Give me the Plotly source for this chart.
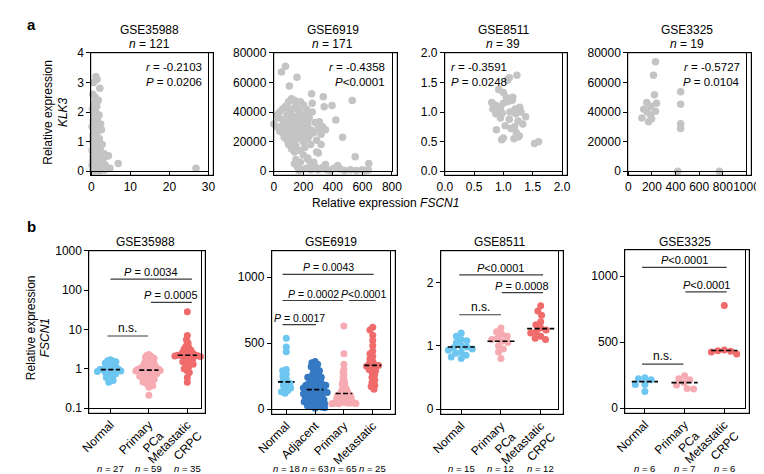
import numpy as np
import plotly.graph_objects as go

W, H = 764, 474
FONT = "Liberation Sans, Arial, Helvetica, sans-serif"

# ================= DATA: panel a (scatter, KLK3 vs FSCN1) =================
titles_a = ["GSE35988", "GSE6919", "GSE8511", "GSE3325"]
n_a = ["121", "171", "39", "19"]
r_a = ["-0.2103", "-0.4358", "-0.3591", "-0.5727"]
p_a = [" = 0.0206", "&lt;0.0001", " = 0.0248", " = 0.0104"]

x_35988 = [
    1.2, 0.6, 1.5, 2.2, 0.4, 1.0, 1.8, 0.8, 1.4, 0.3,
    1.1, 2.0, 0.7, 1.6, 0.5, 1.3, 2.4, 0.9, 1.9, 0.2,
    1.2, 2.6, 0.6, 1.5, 0.4, 1.0, 2.1, 0.8, 1.7, 0.3,
    1.4, 2.8, 0.5, 1.1, 2.3, 0.7, 1.8, 0.2, 1.3, 3.2,
    0.9, 2.0, 0.4, 1.6, 3.8, 0.6, 1.2, 2.5, 0.3, 1.0,
    4.4, 2.0, 0.8, 3.0, 0.5, 1.5, 3.6, 0.2, 1.1, 2.6,
    4.0, 0.7, 1.9, 6.9, 26.8, 0.4, 1.3, 3.3, 0.9, 2.2,
    4.8, 3.5, 2.8,
]
y_35988 = [
    3.2, 3.0, 3.1, 2.8, 2.6, 2.5, 2.4, 2.3, 2.2, 2.1,
    2.0, 1.9, 1.9, 1.8, 1.7, 1.7, 1.6, 1.6, 1.5, 1.5,
    1.4, 1.4, 1.3, 1.3, 1.2, 1.2, 1.1, 1.1, 1.0, 1.0,
    0.9, 0.9, 0.85, 0.8, 0.8, 0.75, 0.7, 0.7, 0.65, 0.6,
    0.6, 0.55, 0.5, 0.5, 0.5, 0.45, 0.4, 0.4, 0.35, 0.35,
    0.52, 0.3, 0.3, 0.3, 0.25, 0.25, 0.2, 0.2, 0.15, 0.15,
    0.1, 0.1, 0.05, 0.26, 0.1, 0.05, 0.08, 0.05, 0.02, 0.02,
    0.1, 0.05, 0.45,
]

x_6919 = [
    79, 52, 157, 105, 256, 335, 531, 341, 394, 420,
    466, 302, 551, 643, 433, 600, 620, 520, 480, 450,
    410, 360, 330, 300, 280, 250, 220, 190, 160, 140,
    170, 350, 270, 230, 200, 180, 150, 130, 210, 250,
    290, 320, 300, 280, 308, 240, 260, 220, 200, 180,
    140, 120, 100, 80, 60, 40, 20, 0, 30, 50,
    70, 90, 110, 130, 150, 170, 190, 210, 230, 250,
    270, 240, 220, 200, 180, 160, 140, 120, 100, 80,
    60, 40, 20, 70, 90, 110, 130, 150, 170, 190,
    160, 140, 120, 100, 120, 140, 200, 230, 60, 110,
    170, 90, 130, 150, 180, 210, 380, 400, 560, 640,
    330, 350, 320, 230, 250, 150, 180, 290, 260, 220,
]
y_6919 = [
    71000, 67000, 63500, 57600, 52400, 50400, 47800, 43500, 44500, 34700,
    22900, 12400, 9800, 5200, 3900, 1000, 500, 1000, 500, 1500,
    2000, 1000, 2500, 1000, 3000, 1000, 2000, 1000, 3000, 5000,
    500, 4500, 6000, 8000, 11000, 14000, 17000, 19000, 16000, 18000,
    21000, 25000, 29000, 33000, 33400, 36000, 40000, 42000, 45000, 47000,
    48000, 49000, 47000, 44000, 42000, 40000, 38000, 32000, 36000, 30000,
    34000, 38000, 40000, 42000, 44000, 41000, 38000, 35000, 32000, 28000,
    26000, 24000, 27000, 30000, 33000, 35000, 37000, 34000, 31000, 28000,
    26000, 27000, 30000, 23000, 21000, 25000, 28000, 30000, 27000, 24000,
    22000, 20000, 22000, 18000, 15000, 13000, 20000, 22000, 35000, 36000,
    37000, 43000, 33000, 25000, 28000, 25000, 500, 1500, 500, 800,
    30000, 28000, 18000, 9000, 4000, 8000, 6000, 13000, 46000, 39000,
]

x_8511 = [
    1.23, 1.07, 1.10, 0.92, 1.00, 1.16, 0.80, 1.28, 0.95, 1.11,
    0.87, 1.21, 1.38, 1.33, 1.03, 0.88, 1.19, 1.22, 1.27, 1.00,
    0.97, 1.25, 1.53, 1.60, 1.15, 1.00, 0.90, 1.05, 1.20, 1.30,
    0.95, 1.10, 1.25, 0.82, 1.08, 0.85, 1.13, 1.18, 0.98,
]
y_8511 = [
    1.62, 1.54, 1.58, 1.38, 1.33, 1.25, 1.16, 1.08, 1.05, 1.00,
    0.97, 0.97, 0.92, 0.80, 0.77, 0.70, 0.75, 0.65, 0.60, 0.56,
    0.53, 0.58, 0.47, 0.50, 1.20, 1.15, 1.10, 1.25, 1.05, 1.00,
    0.90, 0.88, 0.85, 1.05, 1.18, 1.12, 0.72, 0.55, 0.98,
]

x_3325 = [230, 213, 221, 238, 156, 131, 230, 189, 115, 172,
          197, 190, 160, 443, 443, 443, 443, 418, 771]
y_3325 = [74000, 64800, 51700, 45900, 46500, 41900, 40600, 38000, 36000, 33400,
          35400, 44000, 40000, 53700, 45200, 32100, 28800, 0, 0]

xticks_a = [[0, 10, 20, 30], [0, 200, 400, 600, 800],
            [0, 0.5, 1.0, 1.5, 2.0], [0, 200, 400, 600, 800, 1000]]
yticks_a = [[0, 1, 2, 3, 4], [0, 20000, 40000, 60000, 80000],
            [0, 0.5, 1.0, 1.5, 2.0], [0, 20000, 40000, 60000, 80000]]
xrange_a = [[0, 30], [0, 800], [0, 2], [0, 1000]]
yrange_a = [[0, 4], [0, 80000], [0, 2], [0, 80000]]

# ================= DATA: panel b (FSCN1 by group) =================
titles_b = ["GSE35988", "GSE6919", "GSE8511", "GSE3325"]
cats_3 = ["Normal", "Primary<br>PCa", "Metastatic<br>CRPC"]
cats_4 = ["Normal", "Adjacent", "Primary", "Metastatic"]

b1_normal = [1.7, 1.6, 1.55, 1.5, 1.4, 1.3, 1.2, 1.15, 1.1, 1.05,
             1.0, 0.98, 0.95, 0.95, 0.92, 0.9, 0.88, 0.85, 0.8, 0.78,
             0.75, 0.7, 0.65, 0.6, 0.55, 0.5, 0.45]
b1_primary = [2.3, 2.2, 2.1, 2.0, 1.92, 1.84, 1.76, 1.68, 1.61, 1.54,
              1.48, 1.42, 1.36, 1.31, 1.26, 1.22, 1.18, 1.14, 1.11, 1.08,
              1.06, 1.04, 1.02, 1.0, 0.99, 0.98, 0.97, 0.96, 0.95, 0.92,
              0.9, 0.88, 0.86, 0.84, 0.82, 0.8, 0.78, 0.76, 0.74, 0.72,
              0.7, 0.68, 0.66, 0.64, 0.62, 0.6, 0.58, 0.56, 0.54, 0.52,
              0.5, 0.48, 0.46, 0.44, 0.42, 0.4, 0.37, 0.34, 0.21]
b1_met = [28, 7, 5.5, 4.5, 3.8, 3.5, 3.2, 3.0, 2.8, 2.6,
          2.5, 2.4, 2.3, 2.25, 2.2, 2.2, 2.15, 2.1, 2.05, 2.0,
          1.9, 1.8, 1.7, 1.6, 1.5, 1.45, 1.4, 1.3, 1.2, 1.1,
          1.0, 0.9, 0.8, 0.6, 0.45]
med_b1 = [0.95, 0.92, 2.2]
n_b1 = ["27", "59", "35"]

b2_normal = [537, 470, 434, 300, 290, 265, 250, 230, 215, 200,
             195, 180, 170, 160, 150, 140, 130, 120]
b2_adjacent = [360, 350, 340, 330, 320, 310, 300, 290, 280, 270,
               260, 250, 245, 240, 230, 220, 215, 210, 200, 195,
               190, 185, 180, 175, 170, 165, 160, 155, 150, 145,
               140, 140, 135, 130, 125, 120, 115, 110, 105, 100,
               95, 90, 85, 80, 75, 70, 65, 60, 55, 50,
               45, 40, 35, 30, 25, 20, 15, 10, 5, 60,
               120, 180, 240]
b2_primary = [630, 420, 340, 300, 280, 260, 240, 225, 210, 200,
              190, 180, 170, 160, 155, 150, 145, 140, 135, 130,
              125, 120, 118, 115, 112, 110, 110, 108, 105, 102,
              100, 98, 95, 92, 90, 88, 85, 82, 80, 78,
              75, 72, 70, 68, 66, 64, 62, 60, 58, 56,
              55, 54, 52, 50, 50, 48, 47, 46, 45, 44,
              43, 42, 41, 40, 40]
b2_met = [620, 600, 560, 520, 480, 440, 420, 400, 380, 360,
          345, 335, 330, 325, 310, 300, 290, 280, 260, 240,
          220, 200, 180, 170, 150]
med_b2 = [206, 147, 118, 331]
n_b2 = ["18", "63", "65", "25"]

b3_normal = [1.2, 1.15, 1.1, 1.08, 1.05, 1.0, 0.98, 0.97, 0.95, 0.93,
             0.9, 0.88, 0.85, 0.82, 0.8]
b3_primary = [1.28, 1.22, 1.18, 1.15, 1.12, 1.1, 1.07, 1.05, 1.0, 0.95, 0.9, 0.8]
b3_met = [1.63, 1.55, 1.48, 1.38, 1.33, 1.28, 1.25, 1.22, 1.2, 1.15, 1.12, 1.1]
med_b3 = [0.98, 1.07, 1.27]
n_b3 = ["15", "12", "12"]

b4_normal = [229, 222, 214, 178, 178, 126]
b4_primary = [244, 222, 214, 192, 175, 148, 145]
b4_met = [778, 440, 435, 430, 425, 410]
med_b4 = [200, 193, 437]
n_b4 = ["6", "7", "6"]

# comparison brackets: (from, to, level, label, label centre)
brackets_b = [
    [(-0.08, 0.98, 6.8, "n.s.", 0.45), (1.05, 2.12, 49, "<i>P</i> = 0.0005", 1.58),
     (0.0, 2.12, 191, "<i>P</i> = 0.0034", 1.06)],
    [(-0.13, 1.03, 640, "<i>P</i> = 0.0017", 0.45), (-0.13, 1.97, 823, "<i>P</i> = 0.0002", 0.95),
     (2.17, 3.1, 823, "<i>P</i>&lt;0.0001", 2.68), (-0.13, 3.03, 1022, "<i>P</i> = 0.0043", 1.45)],
    [(-0.05, 1.0, 1.49, "n.s.", 0.48), (1.02, 2.06, 1.84, "<i>P</i> = 0.0008", 1.54),
     (-0.05, 2.06, 2.12, "<i>P</i>&lt;0.0001", 1.0)],
    [(-0.07, 0.97, 333, "n.s.", 0.45), (1.02, 2.06, 881, "<i>P</i>&lt;0.0001", 1.54),
     (-0.07, 2.06, 1067, "<i>P</i>&lt;0.0001", 1.0)],
]

# ================= STYLE =================
GRAY = "#c4c4c4"
C_NORMAL = "#6dc6f0"
C_ADJ = "#3579c3"
C_PRIM = "#f6abb2"
C_MET = "#f06b6b"

boxes_a = [(70, 39, 192, 161), (260, 39, 383, 161), (438, 39, 560, 161), (629, 39, 752, 161)]
boxes_b = [(68, 243, 184, 405), (258, 243, 381, 406), (434, 243, 556, 406), (626, 242, 750, 405)]


def xd(l, r):
    return [l / W, r / W]


def yd(t, b):
    return [1 - b / H, 1 - t / H]


def px(v):
    return v / W


def py(v):
    return 1 - v / H


def names(k):
    s = "" if k == 1 else str(k)
    return "x" + s, "y" + s, "xaxis" + s, "yaxis" + s


axis_common = dict(showline=True, linecolor="black", linewidth=1, mirror=True,
                   ticks="outside", ticklen=4, tickwidth=1, tickcolor="black",
                   showgrid=False, zeroline=False, fixedrange=True,
                   tickfont=dict(family=FONT, size=12, color="black"))


def fmt(v, dec):
    return f"{v:.1f}" if dec else str(int(v))


def frame_box(box):
    # outlined, empty annotation box used as the plot frame
    l, t, r, b = box
    return dict(x=px(l - 1), y=py(t - 1), xref="paper", yref="paper", xanchor="left", yanchor="top",
                text=" ", showarrow=False, width=r - l, height=b - t, borderpad=0,
                bordercolor="black", borderwidth=1.2, bgcolor="rgba(0,0,0,0)")


def swarm(vals, ppy, ppx, d, cap, log=False):
    ys = np.log10(np.asarray(vals, float)) if log else np.asarray(vals, float)
    ypx = ys * ppy
    order = np.argsort(-ypx, kind="stable")
    placed = []
    xs = np.zeros(len(ys))
    for i in order:
        yi = ypx[i]
        blocks = []
        cands = [0.0]
        for (xj, yj) in placed:
            dy = abs(yi - yj)
            if dy < d:
                dx = np.sqrt(d * d - dy * dy)
                blocks.append((xj - dx, xj + dx))
                cands += [xj - dx, xj + dx]
        cands.sort(key=lambda c: (abs(c), c))
        for c in cands:
            if all(not (a + 1e-9 < c < b - 1e-9) for a, b in blocks):
                xs[i] = c
                break
        placed.append((xs[i], yi))
    off = xs / ppx
    m = np.max(np.abs(off)) if len(off) else 0
    if m > cap:
        off = off * cap / m
    return off


fig = go.Figure()
layout = {}
annotations = []

# ---------------- panel a ----------------
data_a = [(x_35988, y_35988), (x_6919, y_6919), (x_8511, y_8511), (x_3325, y_3325)]
for i in range(4):
    k = i + 1
    xn, yn, xa, ya = names(k)
    l, t, r, b = boxes_a[i]
    xs, ys = data_a[i]
    fig.add_trace(go.Scatter(x=xs, y=ys, mode="markers", xaxis=xn, yaxis=yn,
                             marker=dict(size=7.5, color=GRAY, line=dict(width=0)),
                             cliponaxis=False, hoverinfo="skip"))
    dec = (i == 2)
    layout[xa] = dict(axis_common, domain=xd(l, r), anchor=yn, range=xrange_a[i], tickangle=0,
                      tickvals=xticks_a[i], ticktext=[fmt(v, dec) for v in xticks_a[i]])
    layout[ya] = dict(axis_common, domain=yd(t, b), anchor=xn, range=yrange_a[i],
                      tickvals=yticks_a[i], ticktext=[fmt(v, dec) for v in yticks_a[i]])
    annotations.append(frame_box(boxes_a[i]))
    cx = (l + r) / 2
    annotations.append(dict(x=px(cx), y=py(15), text=titles_a[i], showarrow=False,
                            xanchor="center", yanchor="middle", font=dict(size=12)))
    annotations.append(dict(x=px(cx), y=py(30), text="<i>n</i> = " + n_a[i], showarrow=False,
                            xanchor="center", yanchor="middle", font=dict(size=12)))
    if i == 2:
        ax_, anc = l + 4, "left"
    else:
        ax_, anc = r - 5, "right"
    annotations.append(dict(x=px(ax_), y=py(54), text="<i>r</i> = " + r_a[i], showarrow=False,
                            xanchor=anc, yanchor="middle", font=dict(size=11.5)))
    annotations.append(dict(x=px(ax_), y=py(69), text="<i>P</i>" + p_a[i],
                            showarrow=False, xanchor=anc, yanchor="middle", font=dict(size=11.5)))

annotations.append(dict(x=px(376), y=py(194), text="Relative expression <i>FSCN1</i>", showarrow=False,
                        xanchor="center", yanchor="middle", font=dict(size=12)))
annotations.append(dict(x=px(33), y=py(100), text="Relative expression<br><i>KLK3</i>", showarrow=False,
                        textangle=-90, xanchor="center", yanchor="middle", font=dict(size=12)))
annotations.append(dict(x=px(8), y=py(10), text="<b>a</b>", showarrow=False,
                        xanchor="center", yanchor="middle", font=dict(size=15)))
annotations.append(dict(x=px(8), y=py(218), text="<b>b</b>", showarrow=False,
                        xanchor="center", yanchor="middle", font=dict(size=15)))

# ---------------- panel b ----------------
groups_b = [
    ([b1_normal, b1_primary, b1_met], [C_NORMAL, C_PRIM, C_MET], cats_3, med_b1, n_b1),
    ([b2_normal, b2_adjacent, b2_primary, b2_met], [C_NORMAL, C_ADJ, C_PRIM, C_MET], cats_4, med_b2, n_b2),
    ([b3_normal, b3_primary, b3_met], [C_NORMAL, C_PRIM, C_MET], cats_3, med_b3, n_b3),
    ([b4_normal, b4_primary, b4_met], [C_NORMAL, C_PRIM, C_MET], cats_3, med_b4, n_b4),
]
xr_b = [[-0.55, 2.35], [-0.5, 3.6], [-0.51, 2.44], [-0.49, 2.51]]
yr_b = [[-1, 3], [0, 1200], [0, 2.5], [0, 1200]]
ytv_b = [[0.1, 1, 10, 100, 1000], [0, 500, 1000], [0, 1, 2], [0, 500, 1000]]
ytt_b = [["0.1", "1", "10", "100", "1000"], ["0", "500", "1000"], ["0", "1", "2"], ["0", "500", "1000"]]
swarm_d = [4.5, 4.0, 6.0, 6.8]
swarm_cap = [0.34, 0.42, 0.34, 0.4]
med_half = [0.25, 0.29, 0.34, 0.33]
bracket_font = [11, 10.5, 11, 11]

for i in range(4):
    k = i + 5
    xn, yn, xa, ya = names(k)
    l, t, r, b = boxes_b[i]
    groups, cols, cats, meds, ns = groups_b[i]
    is_log = (i == 0)
    ppx = (r - l) / (xr_b[i][1] - xr_b[i][0])
    ppy = (b - t) / (yr_b[i][1] - yr_b[i][0])
    for j, (vals, col) in enumerate(zip(groups, cols)):
        off = swarm(vals, ppy, ppx, swarm_d[i], swarm_cap[i], log=is_log)
        fig.add_trace(go.Scatter(x=j + off, y=vals, mode="markers", xaxis=xn, yaxis=yn,
                                 marker=dict(size=7, color=col, line=dict(width=0)),
                                 cliponaxis=False, hoverinfo="skip"))
    for j, m in enumerate(meds):
        fig.add_trace(go.Scatter(x=[j - med_half[i], j + med_half[i]], y=[m, m], mode="lines",
                                 xaxis=xn, yaxis=yn, line=dict(color="black", width=1.6, dash="5px,2.5px"),
                                 cliponaxis=False, hoverinfo="skip"))
    for (x0, x1, lev, lab, tx) in brackets_b[i]:
        fig.add_trace(go.Scatter(x=[x0, x1], y=[lev, lev], mode="lines", xaxis=xn, yaxis=yn,
                                 line=dict(color="#3c3c3c", width=1.2), cliponaxis=False,
                                 hoverinfo="skip"))
        annotations.append(dict(x=tx, y=np.log10(lev) if is_log else lev,
                                xref=xn, yref=yn, text=lab, showarrow=False,
                                xanchor="center", yanchor="bottom", yshift=-1,
                                font=dict(size=bracket_font[i] if lab != "n.s." else 12)))
    layout[xa] = dict(axis_common, domain=xd(l, r), anchor=yn, range=xr_b[i],
                      tickvals=list(range(len(cats))), ticktext=cats, tickangle=-45)
    ydict = dict(axis_common, domain=yd(t, b), anchor=xn, range=yr_b[i],
                 tickvals=ytv_b[i], ticktext=ytt_b[i])
    if is_log:
        ydict["type"] = "log"
    layout[ya] = ydict
    annotations.append(frame_box(boxes_b[i]))
    annotations.append(dict(x=px((l + r) / 2), y=py(234), text=titles_b[i], showarrow=False,
                            xanchor="center", yanchor="middle", font=dict(size=12)))
    for j, nv in enumerate(ns):
        annotations.append(dict(x=j, xref=xn, y=py(467), yref="paper", text="<i>n</i> = " + nv,
                                showarrow=False, xanchor="center", yanchor="middle",
                                font=dict(size=9.5)))

annotations.append(dict(x=px(8), y=py(322), text="Relative expression", showarrow=False,
                        textangle=-90, xanchor="center", yanchor="middle", font=dict(size=12)))
annotations.append(dict(x=px(22), y=py(333), text="<i>FSCN1</i>", showarrow=False,
                        textangle=-90, xanchor="center", yanchor="middle", font=dict(size=12)))

for a in annotations:
    a.setdefault("xref", "paper")
    a.setdefault("yref", "paper")

fig.update_layout(width=W, height=H, margin=dict(l=0, r=0, t=0, b=0),
                  paper_bgcolor="white", plot_bgcolor="white", showlegend=False,
                  font=dict(family=FONT, size=12, color="black"),
                  annotations=annotations, hovermode=False, **layout)

fig.write_html("out.html", config={"displayModeBar": False})
